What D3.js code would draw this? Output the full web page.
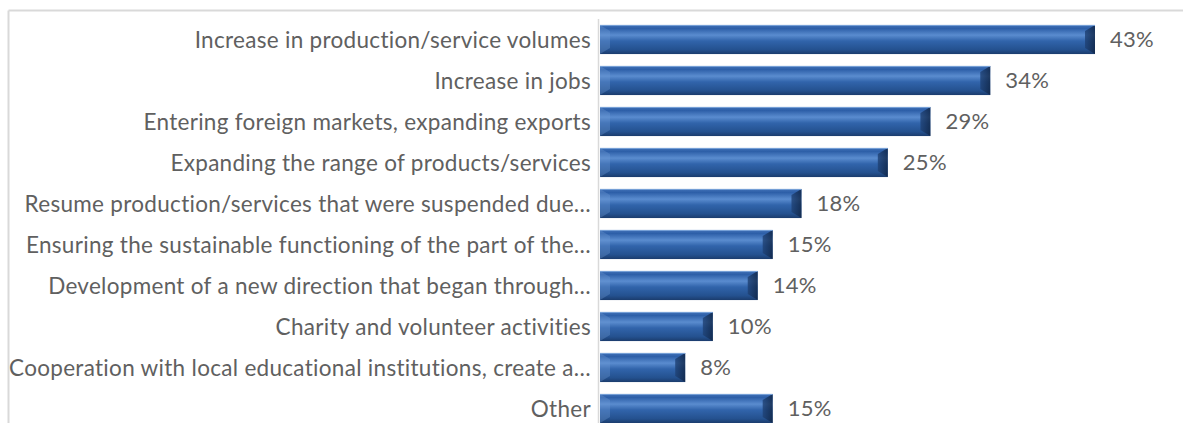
<!DOCTYPE html>
<html>
<head>
<meta charset="utf-8">
<script src="https://cdn.jsdelivr.net/npm/d3@7"></script>
<style>
  body { margin: 0; background: #fff; }
  svg { display: block; }
</style>
</head>
<body>
<div class="chart"></div>
<script>
const categories = [
    "Increase in production/service volumes",
    "Increase in jobs",
    "Entering foreign markets, expanding exports",
    "Expanding the range of products/services",
    "Resume production/services that were suspended due…",
    "Ensuring the sustainable functioning of the part of the…",
    "Development of a new direction that began through…",
    "Charity and volunteer activities",
    "Cooperation with local educational institutions, create a…",
    "Other"
];
const values = [43.0, 33.9, 28.7, 25.0, 17.5, 15.0, 13.7, 9.8, 7.4, 15.0];
const valueLabels = ["43%", "34%", "29%", "25%", "18%", "15%", "14%", "10%", "8%", "15%"];

const width = 1183;
const height = 423;
const font = "Lato, 'Open Sans', sans-serif";

const svg = d3.select('.chart')
    .append('svg')
    .attr('width', width)
    .attr('height', height);

// bevel gradient for bars
const defs = svg.append('defs');
const grad = defs.append('linearGradient')
    .attr('id', 'barGrad')
    .attr('x1', 0).attr('y1', 0).attr('x2', 0).attr('y2', 1);
grad.append('stop').attr('offset', '0%').attr('stop-color', '#4272b8');
grad.append('stop').attr('offset', '12%').attr('stop-color', '#2d5fa8');
grad.append('stop').attr('offset', '35%').attr('stop-color', '#5a8ccf');
grad.append('stop').attr('offset', '55%').attr('stop-color', '#3164ab');
grad.append('stop').attr('offset', '85%').attr('stop-color', '#24518f');
grad.append('stop').attr('offset', '100%').attr('stop-color', '#1b3c6d');

const bevGrad = defs.append('linearGradient')
    .attr('id', 'bevGrad')
    .attr('x1', 0).attr('y1', 0).attr('x2', 1).attr('y2', 0);
bevGrad.append('stop').attr('offset', '0%').attr('stop-color', '#1f4276');
bevGrad.append('stop').attr('offset', '100%').attr('stop-color', '#0f2444');

// outer frame (top and left)
svg.append('line')
    .attr('x1', 8.5).attr('x2', width).attr('y1', 10.5).attr('y2', 10.5)
    .attr('stroke', '#d9d9d9').attr('stroke-width', 2);
svg.append('line')
    .attr('x1', 8.5).attr('x2', 8.5).attr('y1', 10.5).attr('y2', height)
    .attr('stroke', '#d9d9d9').attr('stroke-width', 2);

const x = d3.scaleLinear()
    .domain([0, 43])
    .range([600, 1095]);

const y = d3.scaleBand()
    .domain(categories)
    .range([19, 429])
    .paddingInner(0.29)
    .paddingOuter(0.145);

// axis line
svg.append('line')
    .attr('x1', 598.5).attr('x2', 598.5).attr('y1', 19).attr('y2', height)
    .attr('stroke', '#d9d9d9').attr('stroke-width', 1.5);

const bars = svg.selectAll('.bar')
    .data(categories)
    .enter()
    .append('g')
    .attr('class', 'bar');

bars.append('rect')
    .attr('x', x(0))
    .attr('y', d => y(d))
    .attr('width', (d, i) => x(values[i]) - x(0))
    .attr('height', y.bandwidth())
    .attr('fill', 'url(#barGrad)');

// right bevel (dark)
const bev = 10;
bars.append('polygon')
    .attr('points', (d, i) => {
        let x1 = x(values[i]), y0 = y(d), h = y.bandwidth();
        return [[x1, y0], [x1, y0 + h], [x1 - bev, y0 + h - 6], [x1 - bev, y0 + 6]].join(' ');
    })
    .attr('fill', 'url(#bevGrad)')
    .attr('opacity', 0.8);

// left bevel (light)
bars.append('polygon')
    .attr('points', d => {
        let x0 = x(0), y0 = y(d), h = y.bandwidth();
        return [[x0, y0], [x0 + bev, y0 + 6], [x0 + bev, y0 + h - 6], [x0, y0 + h]].join(' ');
    })
    .attr('fill', '#6f9ad4')
    .attr('opacity', 0.35);

// top edge line
bars.append('line')
    .attr('x1', x(0)).attr('x2', (d, i) => x(values[i]))
    .attr('y1', d => y(d) + 0.5).attr('y2', d => y(d) + 0.5)
    .attr('stroke', '#7aa3d8').attr('stroke-width', 1);

// value labels
svg.selectAll('.val')
    .data(categories)
    .enter()
    .append('text')
    .attr('class', 'val')
    .attr('x', (d, i) => x(values[i]) + 15)
    .attr('y', d => y(d) + y.bandwidth() / 2)
    .attr('dy', '0.36em')
    .attr('font-family', font)
    .attr('font-size', '22px')
    .attr('letter-spacing', '0.3px')
    .attr('fill', '#606060')
    .text((d, i) => valueLabels[i]);

// category labels
svg.selectAll('.cat')
    .data(categories)
    .enter()
    .append('text')
    .attr('class', 'cat')
    .attr('x', 591)
    .attr('y', d => y(d) + y.bandwidth() / 2)
    .attr('dy', '0.36em')
    .attr('text-anchor', 'end')
    .attr('font-family', font)
    .attr('font-size', '22.5px')
    .attr('letter-spacing', '0.3px')
    .attr('fill', '#606060')
    .text(d => d);
</script>
</body>
</html>
